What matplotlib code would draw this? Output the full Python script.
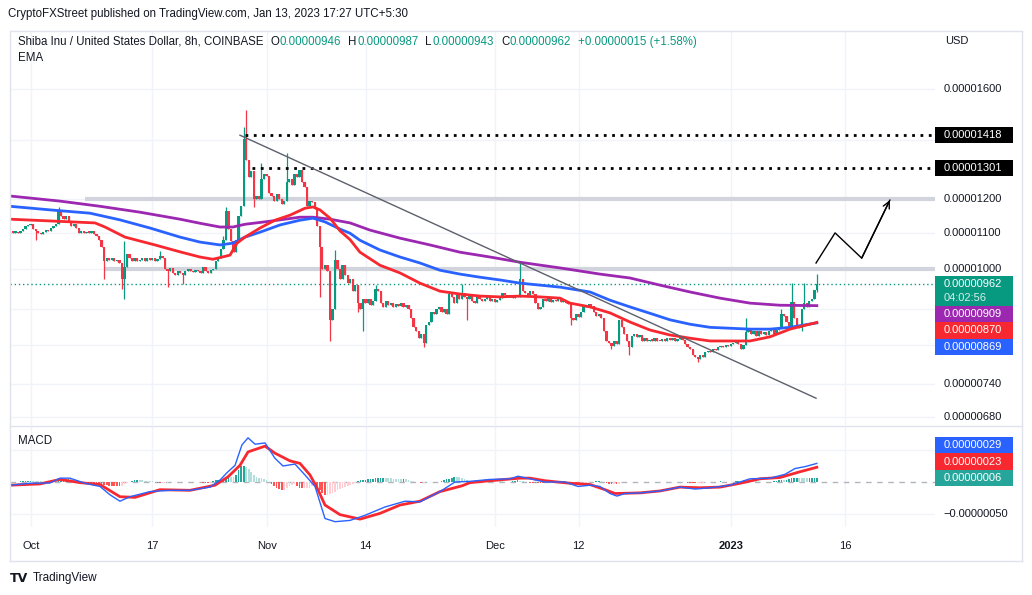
import numpy as np
import matplotlib
matplotlib.use("Agg")
import matplotlib.pyplot as plt
from matplotlib.patches import Rectangle
from matplotlib.lines import Line2D
from matplotlib.ticker import NullLocator
from matplotlib.transforms import blended_transform_factory

plt.rcParams['font.family'] = ['Liberation Sans', 'DejaVu Sans']

# ---------------- DATA ----------------
# prices are in units of 1e-8 USD; times in days since 2022-10-01 (8h candles)
first_time = -2.68
closes = [
    1105, 1100, 1103, 1098, 1105, 1110, 1118, 1122, 1125, 1110,
    1105, 1100, 1095, 1102, 1108, 1105, 1112, 1118, 1125, 1165,
    1150, 1140, 1148, 1130, 1120, 1125, 1112, 1100, 1105, 1098,
    1102, 1100, 1104, 1095, 1090, 1080, 1060, 1020, 1030, 1025,
    1028, 1020, 1025, 1015, 975, 1005, 1040, 1030, 1022, 1028,
    1020, 1025, 1030, 1022, 1028, 1025, 1030, 1020, 1026, 1035,
    1028, 1000, 995, 1002, 990, 985, 995, 990, 985, 995,
    1000, 995, 992, 998, 995, 990, 1005, 995, 990, 998,
    1000, 1020, 1030, 1055, 1080, 1165, 1110, 1075, 1045, 1080,
    1150, 1180, 1405, 1330, 1270, 1290, 1200, 1210, 1200, 1265,
    1280, 1275, 1220, 1210, 1195, 1215, 1200, 1185, 1195, 1255,
    1265, 1245, 1280, 1270, 1295, 1255, 1240, 1180, 1195, 1190,
    1170, 1120, 1060, 1000, 1010, 995, 875, 900, 1025, 1000,
    975, 1010, 985, 965, 975, 945, 960, 915, 900, 925,
    915, 925, 910, 920, 950, 945, 915, 905, 920, 910,
    915, 905, 912, 908, 915, 905, 910, 900, 880, 860,
    850, 835, 845, 825, 865, 872, 895, 890, 900, 905,
    895, 900, 890, 938, 930, 915, 935, 925, 940, 930,
    925, 935, 920, 915, 930, 925, 920, 925, 930, 920,
    925, 918, 922, 928, 940, 935, 930, 935, 928, 932,
    930, 975, 945, 940, 935, 945, 938, 915, 900, 905,
    925, 920, 928, 918, 922, 920, 925, 918, 920, 915,
    912, 880, 875, 890, 882, 895, 910, 905, 912, 908,
    895, 885, 890, 880, 850, 830, 825, 818, 828, 822,
    875, 860, 845, 828, 815, 840, 845, 838, 842, 830,
    835, 828, 832, 830, 835, 830, 828, 834, 830, 836,
    832, 835, 830, 833, 838, 832, 822, 815, 812, 800,
    795, 790, 800, 796, 805, 808, 805, 812, 810, 815,
    818, 815, 820, 818, 822, 825, 830, 822, 812, 820,
    848, 855, 845, 850, 840, 850, 845, 848, 842, 850,
    855, 845, 852, 858, 890, 885, 870, 862, 918, 880,
    860, 858, 900, 915, 905, 920, 925, 947, 962,
]
first_open = 1100
last_open = 946
high_wicks = {19: 1175, 45: 1075, 59: 1048, 84: 1090, 85: 1175, 92: 1450, 93: 1515,
              99: 1320, 109: 1355, 128: 1050, 144: 960, 173: 945, 178: 962, 201: 1018,
              290: 880, 304: 900, 308: 965, 313: 965, 318: 987}
low_wicks = {10: 1078, 37: 975, 44: 950, 45: 925, 62: 955, 68: 962, 96: 1175, 122: 930,
             126: 830, 137: 895, 139: 850, 163: 815, 180: 875, 221: 865, 237: 812,
             244: 800, 271: 785, 312: 850, 318: 943}

ema_red_t = [-2.72, 8.45, 9.76, 12.39, 16.33, 19.62, 22.24, 23.95, 26.19, 27.11, 28.16, 30.13,
             32.10, 34.07, 36.04, 37.10, 38.01, 39.33, 40.64, 41.96, 43.27, 45.90, 48.53, 51.15,
             53.78, 56.41, 59.04, 61.67, 64.30, 66.92, 69.55, 70.87, 73.50, 76.12, 78.75, 81.38,
             84.01, 86.64, 89.27, 91.89, 94.52, 97.15, 99.78, 103.3]
ema_red_v = [1139, 1128, 1116, 1087, 1065, 1046, 1032, 1026, 1037, 1070, 1087, 1113,
             1136, 1151, 1172, 1176, 1167, 1142, 1105, 1080, 1045, 1010, 990, 964,
             944, 937, 932, 930, 932, 930, 927, 915, 906, 892, 871, 853,
             842, 835, 829, 829, 829, 838, 855, 870]
ema_blue_t = [-2.72, 2.54, 7.79, 11.73, 15.68, 19.62, 22.24, 24.87, 26.58, 28.16, 30.13, 32.76,
              35.39, 37.10, 38.67, 40.64, 41.96, 43.27, 45.90, 48.53, 51.15, 53.78, 56.41,
              59.04, 61.67, 64.30, 66.92, 69.55, 73.50, 76.12, 78.75, 81.38, 84.01, 86.64,
              89.27, 91.89, 94.52, 97.15, 99.78, 103.3]
ema_blue_v = [1178, 1167, 1157, 1137, 1113, 1087, 1073, 1065, 1070, 1087, 1101, 1122,
              1136, 1142, 1131, 1110, 1098, 1078, 1051, 1032, 1016, 997, 987,
              979, 972, 964, 959, 954, 942, 922, 906, 891, 876, 866,
              859, 857, 855, 855, 859, 869]
ema_purple_t = [-2.72, 3.85, 9.11, 14.36, 19.62, 22.24, 24.87, 26.58, 28.16, 31.45, 35.39,
                37.10, 39.33, 41.96, 44.59, 48.53, 52.47, 56.41, 60.35, 64.30, 69.55, 74.81,
                78.75, 82.69, 86.64, 90.58, 94.52, 98.46, 103.3]
ema_purple_v = [1210, 1194, 1178, 1160, 1139, 1127, 1116, 1116, 1124, 1133, 1145,
                1145, 1139, 1128, 1107, 1084, 1065, 1045, 1032, 1018, 1003, 987,
                977, 959, 942, 927, 915, 910, 909]

macd_t = [-2.72, -0.09, 2.54, 3.85, 5.16, 7.14, 9.11, 10.42, 11.73, 13.05, 15.68, 18.30, 20.93,
          23.56, 24.87, 25.92, 26.85, 27.76, 28.56, 29.48, 30.79, 32.10, 33.15, 34.73, 36.04,
          37.36, 38.67, 39.99, 41.96, 43.93, 46.56, 49.18, 51.15, 53.78, 55.75, 57.72, 60.35,
          62.98, 64.04, 65.61, 67.58, 70.21, 71.92, 73.50, 74.81, 76.12, 77.04, 78.09, 80.06,
          82.69, 85.32, 87.29, 89.27, 91.89, 94.52, 97.15, 99.12, 100.43, 101.75, 103.3]
macd_v = [-5, -2, -1.5, 6, 6, -2, -7, -20, -30, -23, -15, -13, -13,
          -8, 3, 16, 26, 58, 69, 59, 61, 37, 25, 28, 11,
          -7, -57, -62, -60, -52, -39, -30, -31, -15, 0, 1, 4,
          5, 9, 5, 0, 0, -7, -5, -7, -18, -22, -18, -17,
          -14, -8, -11, -9, -5, 5, 6, 12, 21, 24, 29]
signal_t = [-2.72, 1.22, 3.85, 6.48, 9.11, 11.73, 13.71, 16.99, 20.93, 24.22, 25.92, 27.50,
            28.56, 30.79, 32.10, 34.07, 35.39, 36.70, 37.75, 38.67, 40.64, 43.27, 45.90,
            48.53, 51.15, 53.78, 56.67, 57.72, 60.35, 64.30, 65.61, 67.58, 70.87, 73.50,
            75.47, 76.78, 80.06, 82.69, 85.32, 87.95, 90.58, 93.21, 95.83, 98.46, 101.09, 103.3]
signal_v = [-5, -3, 4, -1, -4, -23, -24, -12, -13, -5, 8, 26,
            47, 56, 45, 33, 29, 11, -12, -36, -51, -58, -49,
            -36, -30, -15, -6, -1, 2, 6, 6, 2, -2, -4,
            -12, -18, -17, -14, -8, -9, -8, -2, 5, 7, 16, 23]

tick_days = [0, 16, 31, 44, 61, 72, 92, 107]
tick_labels = ['Oct', '17', 'Nov', '14', 'Dec', '12', '2023', '16']
price_tick_labels = [1600, 1200, 1100, 1000, 740, 680]
price_grid = [1600, 1400, 1200, 1100, 1000, 900, 820, 740, 680]
dotted_levels = [1418, 1301]
dotted_start = [28.16, 29.08]
gray_levels = [1200, 1000]
gray_start = [7.14, 9.76]
trend_t = [27.5, 103.2]
trend_p = [1418, 714]
arrow_t = [103.2, 105.7, 109.2, 112.9]
arrow_p = [1016, 1099, 1029, 1197]
macd_grid = [-50, 50]
macd_tick_labels = [-50]

# ---------------- STYLE ----------------
UP, DOWN = '#089981', '#F23645'
C_RED, C_BLUE, C_PURPLE = '#F7282F', '#2962FF', '#9C27B0'
TXT = '#131722'
GRID = '#f0f3fa'
BORDER = '#e0e3eb'
HEAD_FS = 8.3

W, H = 1032, 595
fig = plt.figure(figsize=(W / 100, H / 100), dpi=100)
fig.patch.set_facecolor('white')


def fx(x):
    return x / W


def fy(y):
    return 1 - y / H


L, R = 10, 935
MAIN_TOP, MAIN_BOT = 31, 425
MACD_TOP, MACD_BOT = 427, 527
ax = fig.add_axes([fx(L), fy(MAIN_BOT), (R - L) / W, (MAIN_BOT - MAIN_TOP) / H])
axm = fig.add_axes([fx(L), fy(MACD_BOT), (R - L) / W, (MACD_BOT - MACD_TOP) / H])

XMIN, XMAX = -2.72, 118.83
for a in (ax, axm):
    a.set_xlim(XMIN, XMAX)
    for s in a.spines.values():
        s.set_visible(False)
    a.set_xticks(tick_days)
    a.tick_params(length=0, labelbottom=False, labelleft=False)
    a.grid(axis='x', color=GRID, lw=1)
    a.set_axisbelow(True)
    a.set_facecolor('none')

ax.set_yscale('log')
ax.set_ylim(665.8, 1861)
ax.set_yticks(price_grid)
ax.yaxis.set_minor_locator(NullLocator())
ax.grid(axis='y', color=GRID, lw=1)

# candles
c = np.array(closes, float)
n = len(c)
t = first_time + np.arange(n) / 3.0
o = np.empty(n)
o[0] = first_open
o[1:] = c[:-1]
o[-1] = last_open
hi = np.maximum(o, c)
lo = np.minimum(o, c)
for k, v in high_wicks.items():
    hi[k] = max(hi[k], v)
for k, v in low_wicks.items():
    lo[k] = min(lo[k], v)
cols = np.where(c >= o, UP, DOWN)
ax.vlines(t, lo, hi, colors=cols, lw=0.9, zorder=3)
body_lo = np.minimum(o, c)
body_hi = np.maximum(np.maximum(o, c), body_lo * 1.003)
ax.bar(t, body_hi - body_lo, bottom=body_lo, width=0.3, color=cols, lw=0, zorder=3)

# levels
for v, s in zip(gray_levels, gray_start):
    ax.plot([s, XMAX], [v, v], color='#d1d4dc', lw=3, solid_capstyle='butt', zorder=2)
for v, s in zip(dotted_levels, dotted_start):
    ax.plot([s, XMAX], [v, v], color='black', lw=2, ls=(0, (1, 2)), zorder=4)
ax.axhline(c[-1], color=UP, lw=1, ls=(0, (1, 2)), zorder=2)

# EMAs
ax.plot(ema_purple_t, ema_purple_v, color=C_PURPLE, lw=2, zorder=5, solid_joinstyle='round')
ax.plot(ema_blue_t, ema_blue_v, color=C_BLUE, lw=2, zorder=5, solid_joinstyle='round')
ax.plot(ema_red_t, ema_red_v, color=C_RED, lw=2, zorder=5, solid_joinstyle='round')

# trend line & projection arrow
ax.plot(trend_t, trend_p, color='#5d606b', lw=1, zorder=6)
ax.plot(arrow_t, arrow_p, color='black', lw=1, zorder=6)
ax.annotate('', xy=(arrow_t[-1], arrow_p[-1]), xytext=(arrow_t[-2], arrow_p[-2]),
            arrowprops=dict(arrowstyle='->', color='black', lw=1, mutation_scale=12,
                            shrinkA=0, shrinkB=0), zorder=6)

# MACD pane
axm.set_ylim(-70.3, 85.9)
axm.set_yticks(macd_grid)
axm.grid(axis='y', color=GRID, lw=1)
axm.axhline(0, color='#b2b5be', lw=1, ls=(0, (4, 4)), zorder=1)
hist = np.interp(t, macd_t, macd_v) - np.interp(t, signal_t, signal_v)
prev = np.r_[hist[0], hist[:-1]]
hcol = np.where(hist >= 0, np.where(hist >= prev, '#26A69A', '#B2DFDB'),
                np.where(hist < prev, '#FF5252', '#FFCDD2'))
axm.bar(t, hist, width=0.22, color=hcol, lw=0, zorder=2)
axm.plot(macd_t, macd_v, color=C_BLUE, lw=1, zorder=4)
axm.plot(signal_t, signal_v, color=C_RED, lw=2, zorder=3)

# x tick labels
tr = blended_transform_factory(axm.transData, axm.transAxes)
for d, lab in zip(tick_days, tick_labels):
    axm.text(d, -0.19, lab, transform=tr, ha='center', va='center', fontsize=8, color=TXT,
             fontweight='bold' if lab == '2023' else 'normal', clip_on=False)


# ---------------- right axis labels ----------------
def ypix(axis, x, v):
    return H - axis.transData.transform((x, v))[1]


def fmt(v):
    s = f"{abs(v) * 1e-8:.8f}"
    return ('\u2212' + s) if v < 0 else s


BOX_X0, BOX_W, TXT_X = 935, 78, 944


def box(ytop, h, color):
    fig.add_artist(Rectangle((fx(BOX_X0), fy(ytop + h)), BOX_W / W, h / H,
                             transform=fig.transFigure, fc=color, ec='none'))


for v in price_tick_labels:
    fig.text(fx(TXT_X), fy(ypix(ax, 0, v)), fmt(v), fontsize=8, color=TXT, va='center')
for v in dotted_levels:
    yc = ypix(ax, 0, v)
    box(yc - 8.25, 16.5, 'black')
    fig.text(fx(TXT_X), fy(yc), fmt(v), fontsize=8, color='white', va='center')

# stacked labels in main pane (pushed down from the price label)
main_labels = [(c[-1], [fmt(c[-1]), '04:02:56'], UP),
               (ema_purple_v[-1], [fmt(ema_purple_v[-1])], C_PURPLE),
               (ema_red_v[-1], [fmt(ema_red_v[-1])], C_RED),
               (ema_blue_v[-1], [fmt(ema_blue_v[-1])], C_BLUE)]
prev_bottom = -1e9
for v, lines, col in main_labels:
    yc = ypix(ax, 0, v)
    h = 16.5 if len(lines) == 1 else 30
    top = max(yc - 8.25, prev_bottom)
    box(top, h, col)
    fig.text(fx(TXT_X), fy(top + 8.25), lines[0], fontsize=8, color='white', va='center')
    if len(lines) > 1:
        fig.text(fx(TXT_X), fy(top + 22), lines[1], fontsize=8, color='#d6efe9', va='center')
    prev_bottom = top + h

# MACD labels (pushed up from the histogram label)
last_hist = macd_v[-1] - signal_v[-1]
macd_labels = [(last_hist, '#26A69A'), (signal_v[-1], C_RED), (macd_v[-1], C_BLUE)]
prev_top = 1e9
for v, col in macd_labels:
    yc = ypix(axm, 0, v)
    bottom = min(yc + 8.25, prev_top)
    box(bottom - 16.5, 16.5, col)
    fig.text(fx(TXT_X), fy(bottom - 8.25), fmt(v), fontsize=8, color='white', va='center')
    prev_top = bottom - 16.5
for v in macd_tick_labels:
    fig.text(fx(TXT_X - 1), fy(ypix(axm, 0, v)), fmt(v), fontsize=8, color=TXT, va='center')


# ---------------- frame ----------------
def hline(y, x0, x1):
    fig.add_artist(Line2D([fx(x0), fx(x1)], [fy(y), fy(y)], color=BORDER, lw=1,
                          transform=fig.transFigure))


def vline(x, y0, y1):
    fig.add_artist(Line2D([fx(x), fx(x)], [fy(y0), fy(y1)], color=BORDER, lw=1,
                          transform=fig.transFigure))


hline(30.5, 10, 1022)
hline(426, 10, 1022)
hline(561, 10, 1022)
vline(10, 30.5, 561)
vline(1022, 30.5, 561)

# ---------------- header texts ----------------
fig.text(fx(8), fy(14), 'CryptoFXStreet published on TradingView.com, Jan 13, 2023 17:27 UTC+5:30',
         fontsize=HEAD_FS, color=TXT, va='center')
renderer = fig.canvas.get_renderer()
chg = c[-1] - c[-2]
parts = [('Shiba Inu / United States Dollar, 8h, COINBASE', TXT, 7),
         ('O', TXT, 0.5), (fmt(last_open), UP, 7),
         ('H', TXT, 0.5), (fmt(hi[-1]), UP, 7),
         ('L', TXT, 0.5), (fmt(lo[-1]), UP, 7),
         ('C', TXT, 0.5), (fmt(c[-1]), UP, 7),
         (f"+{fmt(chg)} (+{chg / c[-2] * 100:.2f}%)", UP, 0)]
x = 18
for s, col, gap in parts:
    tx = fig.text(fx(x), fy(42), s, fontsize=HEAD_FS, color=col, va='center')
    x += tx.get_window_extent(renderer=renderer).width + gap
fig.text(fx(18), fy(58), 'EMA', fontsize=HEAD_FS, color=TXT, va='center')
fig.text(fx(18), fy(441), 'MACD', fontsize=HEAD_FS, color=TXT, va='center')
fig.text(fx(945), fy(41), 'USD', fontsize=8, color=TXT, va='center')

# footer logo
fig.text(fx(10), fy(578), 'TV', fontsize=9, color=TXT, va='center', fontweight='heavy',
         family=['DejaVu Sans'])
fig.text(fx(33), fy(578), 'TradingView', fontsize=8.5, color=TXT, va='center')

fig.savefig('out.png', dpi=100, facecolor='white')
